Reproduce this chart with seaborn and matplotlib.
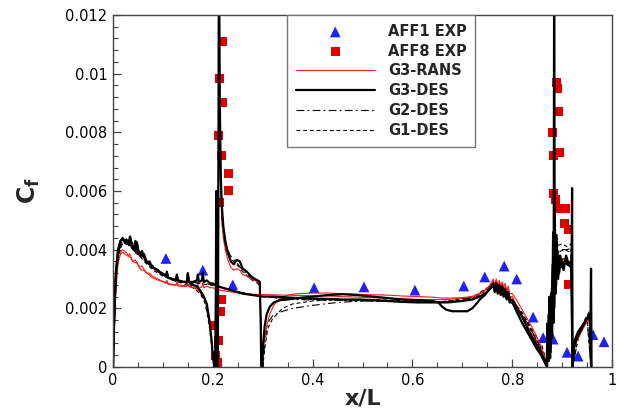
import numpy as np
import matplotlib
matplotlib.use("Agg")
import matplotlib.pyplot as plt
import seaborn as sns
from matplotlib.ticker import MultipleLocator, FuncFormatter

# ---------------- data (Cf values in units of 1e-3) ----------------
# experiments
aff1_x = [0.106, 0.180, 0.240, 0.403, 0.503, 0.605, 0.703, 0.745, 0.784, 0.809,
          0.842, 0.862, 0.882, 0.910, 0.932, 0.962, 0.984]
aff1_y = [3.7, 3.3, 2.8, 2.7, 2.73, 2.62, 2.76, 3.07, 3.44, 3.0,
          1.7, 1.0, 0.95, 0.5, 0.37, 1.1, 0.86]

aff8_x = [0.220, 0.214, 0.220, 0.212, 0.218, 0.232, 0.232, 0.214, 0.218, 0.216,
          0.202, 0.212, 0.206, 0.210, 0.888, 0.890, 0.892, 0.880, 0.882, 0.894,
          0.882, 0.886, 0.896, 0.906, 0.904, 0.912, 0.912]
aff8_y = [11.1, 9.85, 9.0, 7.9, 7.2, 6.6, 6.0, 5.6, 2.3, 1.9,
          1.4, 0.9, 0.4, 0.14, 9.7, 9.5, 8.7, 8.0, 7.2, 7.3,
          5.9, 5.7, 5.4, 5.4, 4.9, 4.7, 2.8]

# fine-grid cut A (through the sail region)
xa = [0.000, 0.002, 0.005, 0.010, 0.015, 0.019, 0.023, 0.027, 0.031, 0.034,
      0.037, 0.041, 0.045, 0.050, 0.054, 0.058, 0.063, 0.068, 0.073, 0.078,
      0.084, 0.090, 0.096, 0.102, 0.106, 0.108, 0.110, 0.118, 0.126, 0.128,
      0.130, 0.140, 0.148, 0.150, 0.152, 0.160, 0.168, 0.175, 0.182, 0.188,
      0.193, 0.197, 0.200, 0.203, 0.205, 0.206, 0.207, 0.208, 0.209, 0.210,
      0.211, 0.212, 0.213, 0.214, 0.216, 0.218, 0.221, 0.225, 0.230, 0.236,
      0.242, 0.248, 0.254, 0.260, 0.268, 0.276, 0.284, 0.290, 0.294, 0.296,
      0.297, 0.299, 0.301, 0.304, 0.308, 0.314, 0.322, 0.335, 0.350, 0.370,
      0.400, 0.430, 0.460, 0.490, 0.520, 0.550, 0.580, 0.610, 0.640, 0.652,
      0.660, 0.668, 0.680, 0.695, 0.710, 0.720, 0.728, 0.735, 0.745, 0.752,
      0.758, 0.762, 0.765, 0.768, 0.771, 0.774, 0.777, 0.780, 0.783, 0.786,
      0.789, 0.792, 0.795, 0.800, 0.810, 0.820, 0.830, 0.840, 0.850, 0.858,
      0.864, 0.869, 0.871, 0.873, 0.875, 0.877, 0.879, 0.881, 0.883, 0.884,
      0.885, 0.887, 0.889, 0.892, 0.896, 0.900, 0.905, 0.910, 0.915, 0.918,
      0.919, 0.920, 0.921, 0.924, 0.930, 0.936, 0.942, 0.948, 0.953, 0.956,
      0.957, 0.958, 0.959]
g3des_a = [0.0, 1.5, 3.0, 3.9, 4.3, 4.4, 4.3, 4.35, 4.2, 4.45,
           4.1, 4.0, 4.3, 3.9, 3.8, 3.95, 3.7, 3.55, 3.6, 3.4,
           3.35, 3.3, 3.2, 3.15, 3.1, 3.25, 3.05, 3.0, 2.95, 3.15,
           2.95, 2.9, 2.9, 3.15, 2.9, 2.8, 2.75, 2.6, 2.4, 2.15,
           1.6, 1.0, 0.4, 0.0, 0.0, 2.5, 6.0, 3.0, 0.5, 0.0,
           5.0, 13.0, 12.5, 9.0, 6.5, 5.5, 4.8, 4.3, 3.9, 3.6,
           3.5, 3.65, 3.6, 3.35, 3.25, 3.1, 3.0, 2.95, 2.9, 1.5,
           0.0, 0.0, 0.8, 1.4, 1.8, 2.05, 2.2, 2.28, 2.3, 2.35,
           2.4, 2.45, 2.48, 2.45, 2.4, 2.35, 2.3, 2.28, 2.25, 2.2,
           2.05, 1.95, 1.9, 1.9, 1.9, 2.0, 2.15, 2.3, 2.45, 2.6,
           2.75, 2.85, 2.6, 2.85, 2.55, 2.8, 2.5, 2.75, 2.4, 2.65,
           2.35, 2.55, 2.25, 2.3, 2.0, 1.7, 1.35, 1.0, 0.75, 0.5,
           0.25, 0.05, 1.5, 0.2, 2.4, 0.5, 2.0, 3.5, 1.5, 13.0,
           6.0, 2.5, 4.5, 3.0, 3.8, 3.4, 3.6, 3.5, 3.45, 3.4,
           3.4, 6.1, 0.0, 0.7, 1.0, 1.2, 1.4, 1.6, 1.75, 1.8,
           1.8, 3.35, 0.0]
g3rans_a = [0.0, 1.0, 2.5, 3.5, 3.9, 4.0, 3.95, 3.9, 3.8, 3.85,
            3.7, 3.6, 3.65, 3.5, 3.4, 3.45, 3.3, 3.2, 3.2, 3.1,
            3.05, 3.0, 2.95, 2.9, 2.88, 2.95, 2.85, 2.82, 2.8, 2.9,
            2.8, 2.78, 2.76, 2.85, 2.75, 2.7, 2.65, 2.55, 2.35, 2.1,
            1.6, 1.0, 0.4, 0.0, 0.0, 1.5, 4.0, 2.0, 0.5, 0.0,
            4.0, 13.0, 11.0, 8.0, 6.0, 5.0, 4.4, 4.0, 3.65, 3.4,
            3.3, 3.35, 3.3, 3.15, 3.1, 3.0, 2.95, 2.9, 2.85, 1.5,
            0.0, 0.0, 0.5, 1.0, 1.4, 1.8, 2.1, 2.35, 2.45, 2.5,
            2.52, 2.52, 2.5, 2.48, 2.46, 2.45, 2.42, 2.4, 2.38, 2.36,
            2.35, 2.35, 2.35, 2.36, 2.38, 2.4, 2.45, 2.5, 2.6, 2.72,
            2.85, 3.0, 2.8, 3.0, 2.78, 2.95, 2.75, 2.9, 2.7, 2.85,
            2.6, 2.75, 2.5, 2.5, 2.25, 1.95, 1.65, 1.35, 1.0, 0.7,
            0.4, 0.1, 0.8, 0.3, 1.5, 0.8, 2.0, 2.8, 2.5, 4.0,
            3.0, 3.3, 3.5, 3.7, 3.65, 3.6, 3.7, 3.6, 3.55, 3.5,
            3.5, 3.4, 0.0, 0.6, 0.9, 1.1, 1.3, 1.5, 1.65, 1.7,
            1.7, 1.7, 0.0]

# fine-grid cut B (away from the sail)
xb = [0.000, 0.003, 0.006, 0.010, 0.015, 0.020, 0.024, 0.028, 0.032, 0.035,
      0.039, 0.044, 0.048, 0.052, 0.057, 0.062, 0.067, 0.072, 0.078, 0.085,
      0.092, 0.100, 0.106, 0.108, 0.110, 0.118, 0.126, 0.128, 0.130, 0.140,
      0.148, 0.150, 0.152, 0.160, 0.168, 0.170, 0.172, 0.178, 0.180, 0.182,
      0.188, 0.195, 0.200, 0.210, 0.220, 0.240, 0.260, 0.280, 0.300, 0.320,
      0.340, 0.370, 0.400, 0.430, 0.460, 0.490, 0.520, 0.550, 0.580, 0.610,
      0.640, 0.670, 0.700, 0.720, 0.735, 0.745, 0.752, 0.758, 0.762, 0.765,
      0.768, 0.771, 0.774, 0.777, 0.780, 0.783, 0.786, 0.789, 0.792, 0.795,
      0.800, 0.810, 0.820, 0.830, 0.840, 0.850, 0.858, 0.865, 0.870, 0.873,
      0.876, 0.878, 0.880, 0.882, 0.884, 0.886, 0.888, 0.890, 0.894, 0.898,
      0.903, 0.908, 0.913, 0.918, 0.921, 0.925, 0.932, 0.940, 0.948, 0.955,
      0.958]
g3des_b = [0.0, 2.0, 3.3, 4.0, 4.3, 4.35, 4.25, 4.3, 4.15, 4.4,
           4.05, 3.95, 4.25, 3.85, 3.75, 3.85, 3.6, 3.55, 3.4, 3.35,
           3.25, 3.15, 3.1, 3.2, 3.05, 3.0, 2.95, 3.1, 2.95, 2.9,
           2.9, 3.2, 2.9, 2.9, 2.95, 3.15, 2.9, 2.95, 3.2, 2.9,
           2.95, 2.85, 2.85, 2.75, 2.7, 2.6, 2.5, 2.45, 2.4, 2.4,
           2.38, 2.35, 2.33, 2.32, 2.3, 2.3, 2.28, 2.25, 2.22, 2.2,
           2.2, 2.2, 2.25, 2.3, 2.4, 2.5, 2.6, 2.7, 2.8, 2.55,
           2.8, 2.5, 2.75, 2.45, 2.7, 2.4, 2.6, 2.3, 2.5, 2.2,
           2.2, 1.85, 1.5, 1.2, 0.9, 0.6, 0.4, 0.15, 0.0, 1.8,
           0.3, 2.5, 1.0, 4.6, 2.0, 3.0, 2.8, 4.0, 3.2, 3.7,
           3.3, 3.8, 3.5, 3.6, 0.0, 0.9, 1.2, 1.4, 1.6, 1.75,
           0.0]
g3rans_b = [0.0, 1.5, 2.9, 3.6, 3.85, 3.9, 3.85, 3.8, 3.75, 3.75,
            3.6, 3.55, 3.55, 3.4, 3.3, 3.3, 3.2, 3.15, 3.05, 3.0,
            2.95, 2.9, 2.85, 2.92, 2.82, 2.8, 2.78, 2.85, 2.76, 2.75,
            2.75, 2.85, 2.74, 2.72, 2.72, 2.82, 2.7, 2.72, 2.85, 2.7,
            2.75, 2.7, 2.7, 2.65, 2.6, 2.55, 2.5, 2.48, 2.47, 2.46,
            2.45, 2.44, 2.43, 2.42, 2.4, 2.38, 2.36, 2.34, 2.32, 2.3,
            2.3, 2.3, 2.35, 2.4, 2.5, 2.6, 2.72, 2.85, 2.95, 2.75,
            2.95, 2.7, 2.9, 2.65, 2.85, 2.6, 2.75, 2.5, 2.65, 2.4,
            2.4, 2.05, 1.7, 1.4, 1.1, 0.8, 0.55, 0.25, 0.0, 0.8,
            0.3, 1.5, 1.0, 2.5, 2.0, 3.2, 3.5, 3.8, 3.6, 3.75,
            3.5, 3.7, 3.6, 3.5, 0.0, 0.7, 1.0, 1.3, 1.5, 1.65,
            0.0]

# coarser grids (G2, G1)
xa2 = [0.000, 0.003, 0.008, 0.015, 0.020, 0.030, 0.038, 0.045, 0.055, 0.065,
       0.080, 0.100, 0.120, 0.140, 0.160, 0.175, 0.185, 0.192, 0.198, 0.203,
       0.206, 0.208, 0.210, 0.212, 0.214, 0.218, 0.225, 0.235, 0.248, 0.260,
       0.275, 0.290, 0.295, 0.297, 0.300, 0.304, 0.310, 0.320, 0.340, 0.360,
       0.400, 0.450, 0.500, 0.550, 0.600, 0.650, 0.700, 0.730, 0.760, 0.780,
       0.800, 0.820, 0.840, 0.860, 0.870, 0.876, 0.882, 0.886, 0.892, 0.900,
       0.910, 0.918, 0.920, 0.925, 0.935, 0.945, 0.955, 0.958]
g2des_a = [0.0, 2.0, 3.6, 4.2, 4.3, 4.2, 4.3, 3.95, 3.8, 3.6,
           3.35, 3.15, 3.0, 2.9, 2.75, 2.55, 2.2, 1.6, 0.8, 0.0,
           2.0, 0.3, 0.0, 11.0, 8.0, 5.3, 4.2, 3.8, 3.55, 3.3,
           3.05, 2.9, 2.8, 0.0, 0.0, 0.8, 1.5, 1.75, 1.9, 2.0,
           2.1, 2.2, 2.25, 2.25, 2.22, 2.2, 2.25, 2.4, 2.75, 2.6,
           2.25, 1.75, 1.2, 0.6, 0.05, 2.0, 3.5, 3.8, 3.9, 4.0,
           4.0, 4.05, 0.0, 0.7, 1.1, 1.5, 1.85, 0.0]
g1des_a = [0.0, 1.8, 3.5, 4.1, 4.25, 4.15, 4.25, 3.9, 3.75, 3.55,
           3.3, 3.1, 2.95, 2.85, 2.7, 2.5, 2.15, 1.5, 0.7, 0.0,
           1.5, 0.2, 0.0, 10.5, 7.5, 5.0, 4.0, 3.7, 3.5, 3.25,
           3.0, 2.85, 2.75, 0.0, 0.0, 0.6, 1.3, 1.65, 2.0, 2.15,
           2.25, 2.3, 2.3, 2.28, 2.25, 2.22, 2.28, 2.45, 2.8, 2.65,
           2.3, 1.85, 1.3, 0.7, 0.1, 1.5, 3.2, 4.1, 4.15, 4.2,
           4.1, 4.2, 0.0, 0.8, 1.2, 1.6, 1.9, 0.0]
xb2 = [0.000, 0.004, 0.010, 0.020, 0.035, 0.050, 0.070, 0.090, 0.120, 0.150,
       0.180, 0.200, 0.240, 0.300, 0.360, 0.420, 0.480, 0.540, 0.600, 0.660,
       0.720, 0.760, 0.780, 0.800, 0.830, 0.860, 0.870, 0.880, 0.890, 0.905,
       0.918, 0.921, 0.935, 0.950, 0.958]
g2des_b = [0.0, 2.5, 3.9, 4.3, 4.25, 4.0, 3.6, 3.3, 3.0, 2.9,
           2.85, 2.8, 2.6, 2.4, 2.3, 2.28, 2.26, 2.24, 2.2, 2.2,
           2.35, 2.75, 2.55, 2.25, 1.5, 0.5, 0.0, 2.5, 3.6, 3.7,
           3.6, 0.0, 1.2, 1.6, 0.0]
g1des_b = [0.0, 2.3, 3.8, 4.25, 4.2, 3.95, 3.55, 3.25, 2.98, 2.88,
           2.83, 2.78, 2.58, 2.4, 2.32, 2.3, 2.27, 2.25, 2.22, 2.22,
           2.38, 2.8, 2.6, 2.3, 1.55, 0.55, 0.0, 2.0, 3.9, 4.0,
           3.9, 0.0, 1.25, 1.65, 0.0]

legend_order = ['AFF1 EXP', 'AFF8 EXP', 'G3-RANS', 'G3-DES', 'G2-DES', 'G1-DES']
x_ticks = [0, 0.2, 0.4, 0.6, 0.8, 1.0]
y_ticks = [0, 0.002, 0.004, 0.006, 0.008, 0.010, 0.012]

# ---------------- plotting ----------------
sns.set_style("ticks")
plt.rcParams['font.family'] = ['DejaVu Sans']
plt.rcParams['mathtext.fontset'] = 'dejavusans'

fig = plt.figure(figsize=(6.21, 4.17), dpi=100)
ax = fig.add_axes([0.182, 0.12, 0.8035, 0.844])

SC = 1e-3


def draw(x, y, color, lw, ls, label=None, z=2):
    sns.lineplot(x=np.asarray(x), y=np.asarray(y) * SC, sort=False,
                 estimator=None, color=color, lw=lw, linestyle=ls,
                 ax=ax, label=label, zorder=z)


sns.scatterplot(x=np.asarray(aff1_x), y=np.asarray(aff1_y) * SC, marker='^',
                s=60, color='#1f1fff', edgecolor='none', label='AFF1 EXP',
                ax=ax, zorder=1.5)
sns.scatterplot(x=np.asarray(aff8_x), y=np.asarray(aff8_y) * SC, marker='s',
                s=42, color='#e00000', edgecolor='none', label='AFF8 EXP',
                ax=ax, zorder=1.5)

dashdot = (0, (7, 3, 1.5, 3))
dashed = (0, (3.5, 2.5))
draw(xa2, g1des_a, 'black', 0.8, dashed, 'G1-DES', 2)
draw(xb2, g1des_b, 'black', 0.8, dashed, None, 2)
draw(xa2, g2des_a, 'black', 0.8, dashdot, 'G2-DES', 2)
draw(xb2, g2des_b, 'black', 0.8, dashdot, None, 2)
draw(xa, g3rans_a, '#ff1a1a', 0.8, '-', 'G3-RANS', 2.2)
draw(xb, g3rans_b, '#ff1a1a', 0.8, '-', None, 2.2)
draw(xa, g3des_a, 'black', 1.6, '-', 'G3-DES', 2.4)
draw(xb, g3des_b, 'black', 1.6, '-', None, 2.4)

ax.set_xlim(0, 1)
ax.set_ylim(0, 0.012)
ax.set_xticks(x_ticks)
ax.set_yticks(y_ticks)
ax.xaxis.set_minor_locator(MultipleLocator(0.05))
ax.yaxis.set_minor_locator(MultipleLocator(0.0004))
fmt = FuncFormatter(lambda v, p: '%g' % round(v, 6))
ax.xaxis.set_major_formatter(fmt)
ax.yaxis.set_major_formatter(fmt)
ax.tick_params(which='both', direction='in', top=False, right=False,
               color='#444444', labelsize=10.5, labelcolor='black')
ax.tick_params(which='major', length=6, width=0.9, pad=4)
ax.tick_params(which='minor', length=3.5, width=0.8)
for sp in ax.spines.values():
    sp.set_color('#444444')
    sp.set_linewidth(1.0)

ax.set_xlabel('x/L', fontsize=16, fontweight='bold', labelpad=1)
ax.set_ylabel(r'$\mathbf{C_f}$', fontsize=17)
ax.yaxis.set_label_coords(-0.142, 0.5)

h, l = ax.get_legend_handles_labels()
hd = dict(zip(l, h))
leg = ax.legend([hd[k] for k in legend_order], legend_order, loc='upper left',
                bbox_to_anchor=(0.349, 1.0), borderaxespad=0, frameon=True,
                fancybox=False, edgecolor='#777777', framealpha=1,
                prop={'weight': 'bold', 'size': 10.5}, handlelength=5.4,
                handletextpad=0.9, labelspacing=0.33, borderpad=0.6,
                scatterpoints=1)
leg.get_frame().set_linewidth(1.0)
leg.set_zorder(5)

fig.savefig('out.png', dpi=100)
